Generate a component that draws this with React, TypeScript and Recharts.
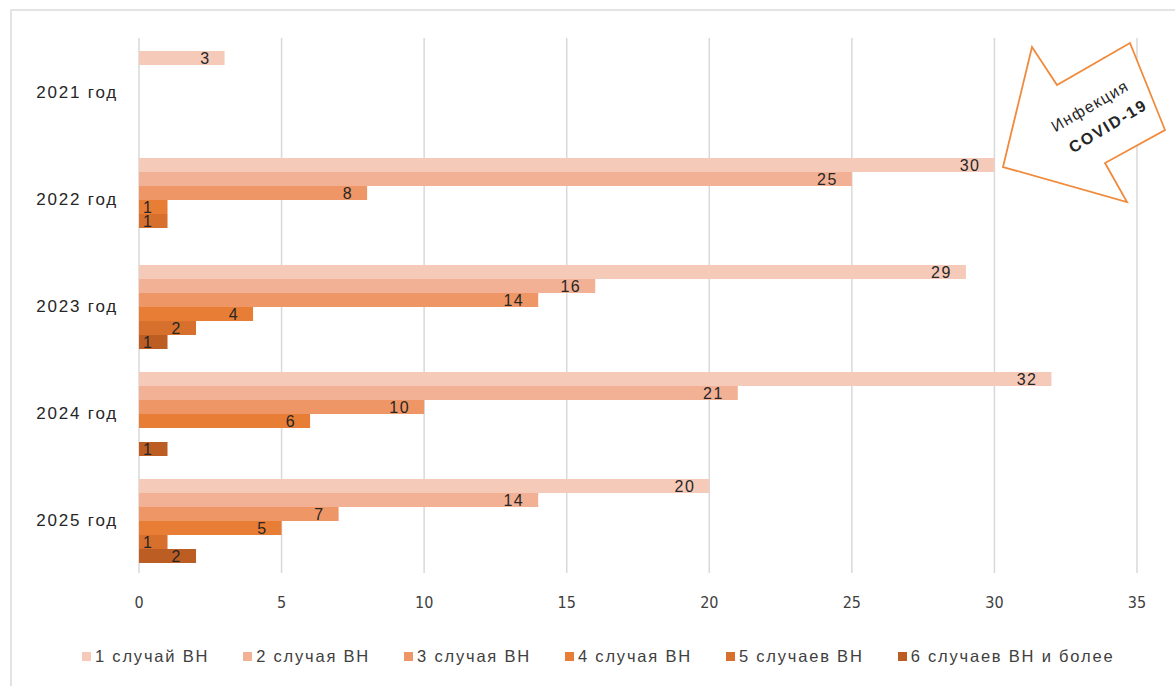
import { Bar, BarChart, CartesianGrid, LabelList, Legend, XAxis, YAxis } from 'recharts';

const years = ['2021 год', '2022 год', '2023 год', '2024 год', '2025 год'];

const seriesNames = [
  '1 случай ВН',
  '2 случая ВН',
  '3 случая ВН',
  '4 случая ВН',
  '5 случаев ВН',
  '6 случаев ВН и более',
];

const seriesColors = ['#F6CAB9', '#F2B194', '#EE9665', '#E87D36', '#D8702D', '#BC5E23'];

const cases1 = [3, 30, 29, 32, 20];
const cases2 = [null, 25, 16, 21, 14];
const cases3 = [null, 8, 14, 10, 7];
const cases4 = [null, 1, 4, 6, 5];
const cases5 = [null, 1, 2, null, 1];
const cases6 = [null, null, 1, 1, 2];

const xTicks = [0, 5, 10, 15, 20, 25, 30, 35];

const allSeries = [cases1, cases2, cases3, cases4, cases5, cases6];

const data = years.map((year, i) => {
  const row: Record<string, string | number | null> = { year };
  allSeries.forEach((s, k) => {
    row['s' + k] = s[i];
  });
  return row;
});

const textFont = "'Liberation Sans', Arial, sans-serif";

function LegendContent(props: any) {
  const items = props.payload || [];
  return (
    <div style={{ display: 'flex', fontFamily: textFont, fontSize: 16.5, letterSpacing: 1.8, color: '#404040' }}>
      {items.map((item: any) => (
        <div key={item.value} style={{ display: 'flex', alignItems: 'center', marginRight: 34 }}>
          <span style={{ width: 9, height: 9, background: item.color, marginRight: 4, display: 'inline-block' }} />
          <span>{item.value}</span>
        </div>
      ))}
    </div>
  );
}

export default function App() {
  return (
    <div style={{ position: 'absolute', left: 0, top: 0, width: 1175, height: 686, background: '#fff', overflow: 'hidden' }}>
      {/* рамка */}
      <div style={{ position: 'absolute', left: 10, top: 9, width: 1200, height: 700, borderLeft: '2px solid #e3e3e3', borderTop: '2px solid #e3e3e3' }} />
      <div style={{ position: 'absolute', left: 0, top: 0 }}>
        <BarChart
          width={1175}
          height={686}
          data={data}
          layout="vertical"
          margin={{ top: 38, right: 38, left: 0, bottom: 73 }}
          barCategoryGap={13}
          barGap={0}
        >
          <CartesianGrid horizontal={false} stroke="#d9d9d9" strokeWidth={1.5} />
          <XAxis
            type="number"
            domain={[0, 35]}
            ticks={xTicks}
            axisLine={false}
            tickLine={false}
            tickMargin={18}
            height={40}
            tick={{ fill: '#404040', fontSize: 16, fontFamily: "'DejaVu Sans Condensed', 'Liberation Sans Narrow', sans-serif" }}
          />
          <YAxis
            type="category"
            dataKey="year"
            width={139}
            axisLine={false}
            tickLine={false}
            tickMargin={15}
            tick={{ fill: '#262626', fontSize: 17, fontFamily: textFont, letterSpacing: 1.8 }}
          />
          <Legend
            verticalAlign="middle"
            align="center"
            layout="horizontal"
            wrapperStyle={{ left: 82, top: 647, width: 1100 }}
            content={<LegendContent />}
          />
          {seriesNames.map((name, k) => (
            <Bar key={name} dataKey={'s' + k} name={name} fill={seriesColors[k]} isAnimationActive={false}>
              <LabelList
                dataKey={'s' + k}
                position="insideRight"
                offset={14}
                fill="#262626"
                fontSize={16}
                fontFamily={textFont}
                letterSpacing={1.5}
              />
            </Bar>
          ))}
        </BarChart>
      </div>
      {/* стрелка COVID-19 */}
      <svg width={1175} height={686} style={{ position: 'absolute', left: 0, top: 0, pointerEvents: 'none' }}>
        <polygon
          points="1003,167 1032,47 1057,85 1130,43 1165,130 1105,163 1127,202"
          fill="#fff"
          stroke="#F08A3C"
          strokeWidth={1.8}
          strokeLinejoin="miter"
        />
        <text
          x={1090}
          y={106}
          textAnchor="middle"
          dominantBaseline="central"
          transform="rotate(-30 1090 106)"
          fontFamily={textFont}
          fontSize={16}
          letterSpacing={1.3}
          fill="#262626"
        >
          Инфекция
        </text>
        <text
          x={1108}
          y={126}
          textAnchor="middle"
          dominantBaseline="central"
          transform="rotate(-31 1108 126)"
          fontFamily={textFont}
          fontSize={16}
          fontWeight="bold"
          letterSpacing={1.8}
          fill="#262626"
        >
          COVID-19
        </text>
      </svg>
    </div>
  );
}
